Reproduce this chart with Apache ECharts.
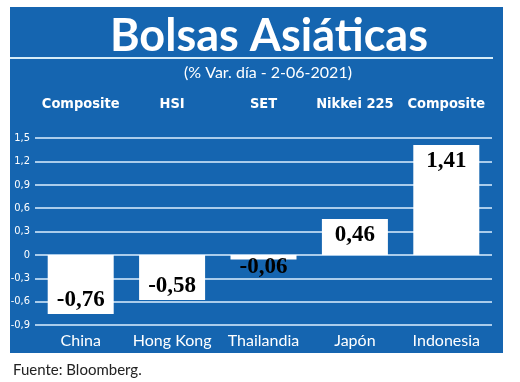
<!DOCTYPE html>
<html><head><meta charset="utf-8">
<script src="https://cdn.jsdelivr.net/npm/echarts@6/dist/echarts.min.js"></script>
<style>html,body{margin:0;padding:0;background:#fff}#c{width:520px;height:382px}</style>
</head><body><div id="c"></div>
<script>
const countries = ['China','Hong Kong','Thailandia','Japón','Indonesia'];
const indices = ['Composite','HSI','SET','Nikkei 225','Composite'];
const values = [-0.76, -0.58, -0.06, 0.46, 1.41];
const yMin = -0.9, yMax = 1.5, yStep = 0.3;

const blue = '#1565b0';
const fmt = v => v.toFixed(2).replace('.', ',');
const chart = echarts.init(document.getElementById('c'));
chart.setOption({
  animation: false,
  backgroundColor: '#fff',
  graphic: [
    {type:'rect', shape:{x:10,y:7,width:493,height:346}, style:{fill:blue}, z:-10},
    {type:'rect', shape:{x:10,y:57,width:483,height:2}, style:{fill:'#d6ecf8'}, z:-5},
    {type:'text', x:269, y:36, style:{text:'Bolsas Asiáticas', fill:'#fff', textAlign:'center', textVerticalAlign:'middle', font:'bold 45px Lato'}},
    {type:'text', x:268, y:73, style:{text:'(% Var. día - 2-06-2021)', fill:'#fff', textAlign:'center', textVerticalAlign:'middle', font:'16px Lato'}},
    {type:'text', x:13, y:370, style:{text:'Fuente: Bloomberg.', fill:'#222', textVerticalAlign:'middle', font:'15px Lato'}}
  ],
  grid: {left:35, right:28, top:138, bottom:57},
  xAxis: [
    {type:'category', data:countries, position:'bottom',
     axisLine:{show:false}, axisTick:{show:false},
     axisLabel:{interval:0, color:'#fff', fontFamily:'Lato', fontSize:16, margin:8}},
    {type:'category', data:indices, position:'top', offset:18,
     axisLine:{show:false}, axisTick:{show:false},
     axisLabel:{interval:0, color:'#fff', fontFamily:'"DejaVu Sans Condensed",sans-serif', fontWeight:'bold', fontSize:14.5, margin:8}}
  ],
  yAxis: {type:'value', min:yMin, max:yMax, interval:yStep,
    axisLine:{show:false}, axisTick:{show:false},
    axisLabel:{color:'#fff', fontFamily:'"DejaVu Sans Condensed",sans-serif', fontSize:11, margin:5,
      formatter: v => (Math.round(v*10)/10 === 0 ? '0' : (Math.round(v*10)/10).toString().replace('.', ','))},
    splitLine:{lineStyle:{color:'#dcefff', width:1.5}}},
  series: [{
    type:'bar', data: values.map(v => ({
      value: v,
      label: {position: v >= 0 ? 'insideTop' : (v > -0.2 ? 'bottom' : 'insideBottom'),
              distance: v >= 0 ? 5 : (v > -0.2 ? -4 : 3)}
    })),
    barWidth:66,
    itemStyle:{color:'#fff'},
    label:{show:true, color:'#000', fontFamily:'"Liberation Serif", serif', fontWeight:'bold', fontSize:23,
      formatter: p => fmt(p.value)}
  }]
});
</script></body></html>
